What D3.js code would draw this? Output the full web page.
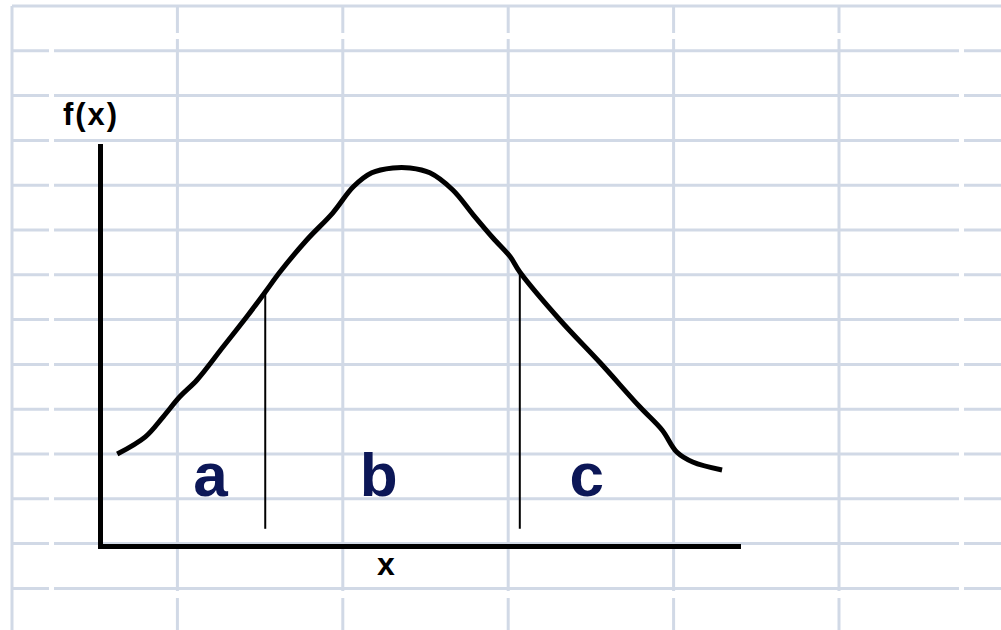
<!DOCTYPE html>
<html>
<head>
<meta charset="utf-8">
<script src="https://cdn.jsdelivr.net/npm/d3@7"></script>
<style>
  body { margin: 0; background: #fff; }
  svg { display: block; font-family: Arial, "Liberation Sans", sans-serif; }
</style>
</head>
<body>
<div id="chart"></div>
<script>
// curve (x along axis, f(x) height), units 0..10
const curveX = [0.27, 0.71, 0.99, 1.25, 1.52, 1.93, 2.30, 2.59, 2.82, 3.24, 3.65, 3.97, 4.26, 4.59, 4.86,
                5.17, 5.53, 5.85, 6.16, 6.43, 6.58, 7.21, 7.84, 8.46, 8.81, 9.04, 9.29, 9.75];
const curveY = [2.30, 2.73, 3.23, 3.73, 4.15, 4.98, 5.73, 6.35, 6.85, 7.65, 8.33, 8.98, 9.33, 9.45, 9.45,
                9.33, 8.90, 8.28, 7.70, 7.23, 6.85, 5.65, 4.58, 3.48, 2.90, 2.35, 2.10, 1.90];

// the two cut lines and the region labels
const cutX = [2.59, 6.58];
const cutTop = [6.35, 6.85];
const cutBottom = 0.43;
const regionNames = ["a", "b", "c"];
const regionX = [1.73, 4.37, 7.63];
const regionY = 1.25;

const width = 1001, height = 630;

const svg = d3.select("#chart")
    .append("svg")
    .attr("width", width)
    .attr("height", height);

// spreadsheet grid behind everything
const gridColor = "#d1d9e6";
const colStep = 165.4, rowStep = 44.8;
const cols = d3.range(6).map(i => 12 + i * colStep);
const rows = d3.range(14).map(i => 6 + i * rowStep);

const grid = svg.append("g").attr("stroke", gridColor).attr("stroke-width", 3);
// vertical lines, broken near the top and bottom
cols.forEach(function (x, i) {
    if (i === 0) {
        grid.append("line").attr("x1", x).attr("x2", x).attr("y1", 6).attr("y2", height);
        return;
    }
    [[6, 33], [39, 591], [598, height]].forEach(function (s) {
        grid.append("line").attr("x1", x).attr("x2", x).attr("y1", s[0]).attr("y2", s[1]);
    });
});
rows.forEach(function (y, i) {
    if (i === 0) {
        grid.append("line").attr("x1", 12).attr("x2", width).attr("y1", y).attr("y2", y);
        return;
    }
    [[12, 49], [54, 959], [964, width]].forEach(function (s) {
        grid.append("line").attr("x1", s[0]).attr("x2", s[1]).attr("y1", y).attr("y2", y);
    });
});

const scaleX = d3.scaleLinear().domain([0, 10]).range([100, 738]);
const scaleY = d3.scaleLinear().domain([0, 10]).range([546, 146]);

// axes: only the bare domain lines
const axisX = d3.axisBottom(scaleX).tickValues([]).tickSizeOuter(0);
const axisY = d3.axisLeft(scaleY).tickValues([]).tickSizeOuter(0);

svg.append("g")
    .attr("class", "axisX")
    .attr("transform", `translate(0, ${scaleY(0)})`)
    .call(axisX)
    .select(".domain")
    .attr("stroke", "#000")
    .attr("stroke-width", 5)
    .attr("stroke-linecap", "square");

svg.append("g")
    .attr("class", "axisY")
    .attr("transform", `translate(${scaleX(0)}, 0)`)
    .call(axisY)
    .select(".domain")
    .attr("stroke", "#000")
    .attr("stroke-width", 5)
    .attr("stroke-linecap", "square");

// bell curve
const points = curveX.map((x, i) => [x, curveY[i]]);
const line = d3.line()
    .x(d => scaleX(d[0]))
    .y(d => scaleY(d[1]))
    .curve(d3.curveCatmullRom.alpha(0.5));

svg.append("path")
    .datum(points)
    .attr("d", line)
    .attr("fill", "none")
    .attr("stroke", "#000")
    .attr("stroke-width", 5)
    .attr("stroke-linejoin", "round");

// cut lines
svg.selectAll("line.cut")
    .data(cutX)
    .enter()
    .append("line")
    .attr("class", "cut")
    .attr("x1", d => scaleX(d))
    .attr("x2", d => scaleX(d))
    .attr("y1", d => scaleY(cutBottom))
    .attr("y2", (d, i) => scaleY(cutTop[i]))
    .attr("stroke", "#000")
    .attr("stroke-width", 2);

// region labels
svg.selectAll("text.region")
    .data(regionNames)
    .enter()
    .append("text")
    .attr("class", "region")
    .attr("x", (d, i) => scaleX(regionX[i]))
    .attr("y", scaleY(regionY))
    .attr("text-anchor", "middle")
    .attr("font-size", 62)
    .attr("font-weight", "bold")
    .attr("fill", "#0c1757")
    .text(d => d);

// axis titles
svg.append("text")
    .attr("x", 91)
    .attr("y", 125)
    .attr("text-anchor", "middle")
    .attr("font-size", 31)
    .attr("font-weight", "bold")
    .attr("letter-spacing", 2)
    .attr("fill", "#000")
    .text("f(x)");

svg.append("text")
    .attr("x", 386)
    .attr("y", 575)
    .attr("text-anchor", "middle")
    .attr("font-size", 32)
    .attr("font-weight", "bold")
    .attr("fill", "#000")
    .text("x");
</script>
</body>
</html>
